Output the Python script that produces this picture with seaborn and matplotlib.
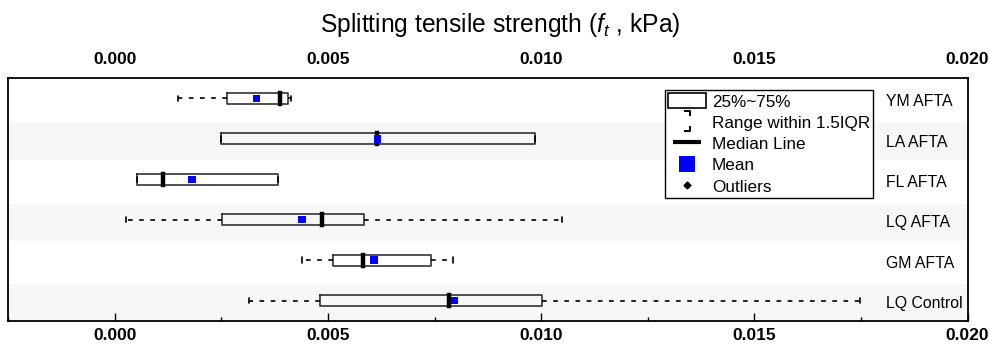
import numpy as np
import pandas as pd
import matplotlib
matplotlib.use("Agg")
import matplotlib.pyplot as plt
import matplotlib.transforms as mtransforms
from matplotlib.path import Path
from matplotlib.lines import Line2D
from matplotlib.patches import Rectangle
from matplotlib.ticker import MultipleLocator
import seaborn as sns

# ---------------- data ----------------
categories = ["YM AFTA", "LA AFTA", "FL AFTA", "LQ AFTA", "GM AFTA", "LQ Control"]
whisker_low = [0.00147, 0.00248, 0.00052, 0.00026, 0.00438, 0.00314]
q1 = [0.00262, 0.00248, 0.00052, 0.00252, 0.00511, 0.00481]
median = [0.00387, 0.00616, 0.00113, 0.00485, 0.00583, 0.00784]
q3 = [0.00407, 0.00986, 0.00382, 0.00585, 0.00741, 0.01002]
whisker_high = [0.00413, 0.00986, 0.00382, 0.01049, 0.00794, 0.01747]
mean_vals = [0.00333, 0.00616, 0.00181, 0.00439, 0.00608, 0.00797]
x_ticks = [0.000, 0.005, 0.010, 0.015, 0.020]
x_tick_labels = ["0.000", "0.005", "0.010", "0.015", "0.020"]
title = "Splitting tensile strength ($f_t$ , kPa)"
legend_labels = ["25%~75%", "Range within 1.5IQR", "Median Line", "Mean", "Outliers"]

# long-form table: five summary points per group give the box statistics
rows = []
for c, a, b, m, d, e in zip(categories, whisker_low, q1, median, q3, whisker_high):
    for v in (a, b, m, d, e):
        rows.append({"group": c, "value": v})
df = pd.DataFrame(rows)

# ---------------- style ----------------
sns.set_style("ticks")
plt.rcParams["font.family"] = ["Liberation Sans", "DejaVu Sans"]
plt.rcParams["mathtext.fontset"] = "custom"
plt.rcParams["mathtext.rm"] = "Liberation Sans"
plt.rcParams["mathtext.it"] = "Liberation Sans:italic"
plt.rcParams["axes.edgecolor"] = "black"
plt.rcParams["text.color"] = "black"
plt.rcParams["xtick.color"] = "black"
plt.rcParams["ytick.color"] = "black"
plt.rcParams["axes.labelcolor"] = "black"

fig = plt.figure(figsize=(9.9, 3.46), dpi=100)
ax = fig.add_axes([0.00838, 0.07312, 0.9689, 0.70058])

# alternating row bands
for i in range(1, len(categories), 2):
    ax.axhspan(i - 0.4, i + 0.52, color="#f7f7f7", lw=0, zorder=0)

sns.boxplot(
    data=df, x="value", y="group", order=categories, orient="h",
    fill=False, width=0.27, color="#333333", linecolor="#333333", linewidth=1.2,
    whis=1.5, showfliers=False,
    boxprops=dict(color="#333333", linewidth=1.2),
    medianprops=dict(color="black", linewidth=3.2, solid_capstyle="projecting"),
    whiskerprops=dict(color="black", linewidth=1.2, linestyle=(0, (2.8, 3.9))),
    capprops=dict(color="black", linewidth=1.2),
    ax=ax,
)

sns.scatterplot(x=mean_vals, y=np.arange(len(categories)), marker="s", s=27,
                color="blue", edgecolor="none", zorder=6, ax=ax, legend=False)

ax.set_xlim(-0.0025, 0.020)
ax.set_ylim(len(categories) - 0.5, -0.5)
ax.set_yticks([])
ax.set_xlabel("")
ax.set_ylabel("")

ax.set_xticks(x_ticks, x_tick_labels)
ax.xaxis.set_minor_locator(MultipleLocator(0.0025))
ax.tick_params(axis="x", which="both", direction="in", bottom=True, top=True,
               labelbottom=True, labeltop=False, colors="black", width=1.0)
ax.tick_params(axis="x", which="major", length=6, pad=5, labelsize=12.5)
ax.tick_params(axis="x", which="minor", length=3)
for lbl in ax.get_xticklabels():
    lbl.set_fontweight("bold")

for sp in ax.spines.values():
    sp.set_visible(True)
    sp.set_linewidth(1.3)
    sp.set_color("black")

# top labels
ax2 = ax.twiny()
ax2.set_xlim(ax.get_xlim())
ax2.set_xticks(x_ticks, x_tick_labels)
ax2.tick_params(axis="x", which="both", length=0, pad=8, labelsize=12.5,
                colors="black")
for lbl in ax2.get_xticklabels():
    lbl.set_fontweight("bold")
for sp in ax2.spines.values():
    sp.set_visible(False)

# category labels inside right side
trans = mtransforms.blended_transform_factory(ax.transAxes, ax.transData)
for i, c in enumerate(categories):
    ax.text(0.915, i + 0.08, c, ha="left", va="center", fontsize=11.4,
            color="black", transform=trans)

# legend
bracket = Path(
    [(-0.33, 1), (0.33, 1), (0.33, 0.45), (0.33, -0.45), (0.33, -1), (-0.33, -1)],
    [Path.MOVETO, Path.LINETO, Path.LINETO, Path.MOVETO, Path.LINETO, Path.LINETO],
)
handles = [
    Rectangle((0, 0), 1, 1, facecolor="white", edgecolor="black", lw=1.2),
    Line2D([], [], marker=bracket, markersize=15, color="black", linestyle="none",
           markerfacecolor="none", markeredgewidth=1.4),
    Line2D([], [], marker="_", markersize=20, markeredgewidth=3, color="black",
           linestyle="none"),
    Line2D([], [], marker="s", markersize=11.5, color="blue", markeredgewidth=0,
           linestyle="none"),
    Line2D([], [], marker="D", markersize=3.5, color="black", linestyle="none"),
]
leg = ax.legend(handles, legend_labels, loc="upper left",
                bbox_to_anchor=(0.685, 0.952), bbox_transform=ax.transAxes,
                borderaxespad=0, frameon=True, fancybox=False, edgecolor="black",
                framealpha=1, fontsize=12.3, handlelength=2.2, handleheight=1.0,
                handletextpad=0.35, labelspacing=0.28, borderpad=0.18)
leg.get_frame().set_linewidth(1.0)

fig.text(0.5054, 1 - 31.7 / 346, title, ha="center", va="baseline", fontsize=17.7,
         color="black")

fig.savefig("out.png", dpi=100)
